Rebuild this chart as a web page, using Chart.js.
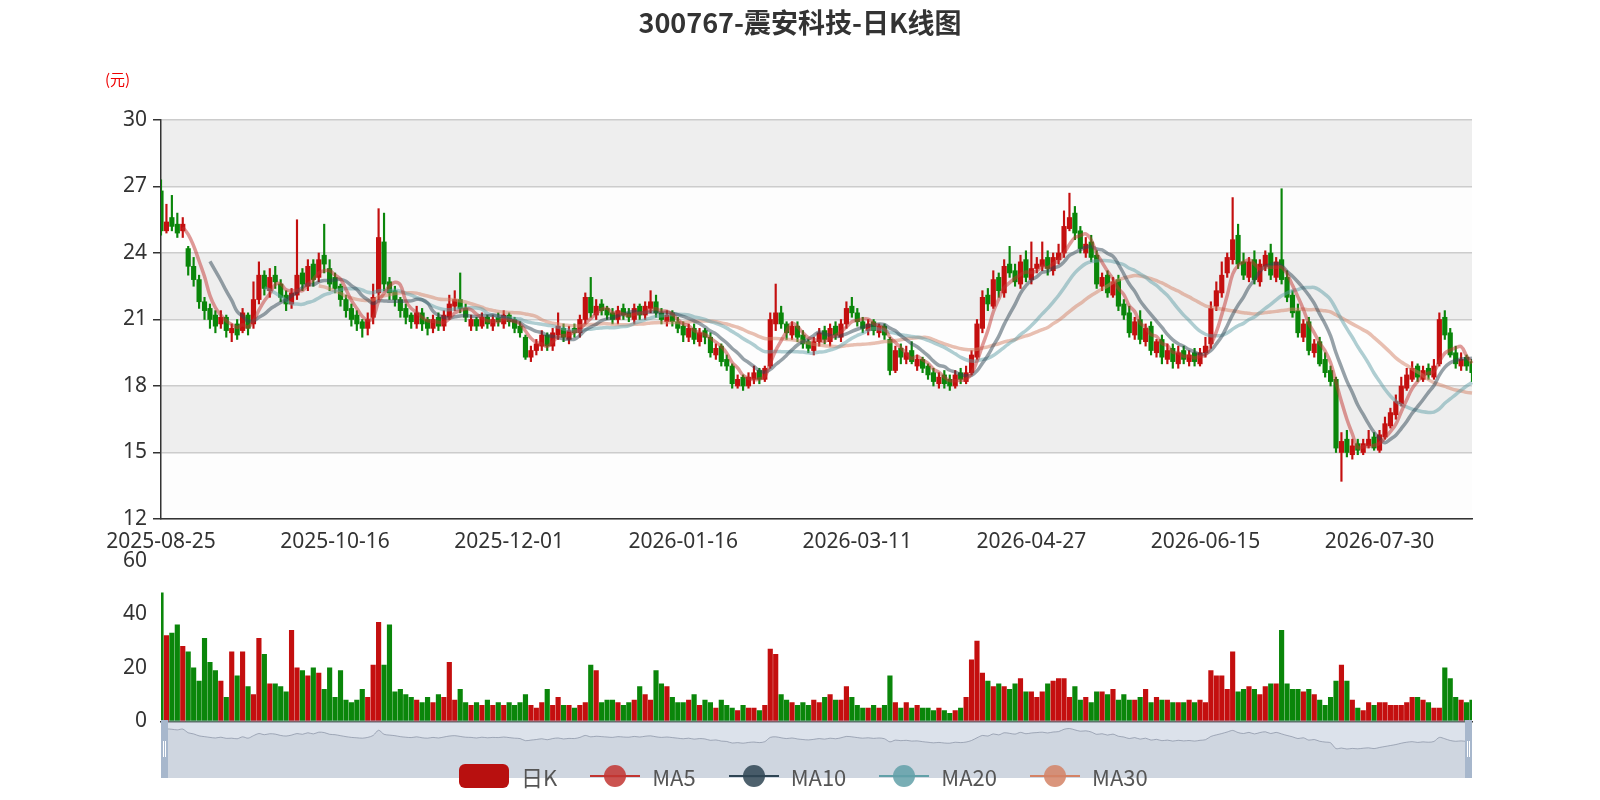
<!DOCTYPE html>
<html>
<head>
<meta charset="utf-8">
<script src="https://cdn.jsdelivr.net/npm/chart.js@4.4.1/dist/chart.umd.min.js"></script>
<style>
  body { margin: 0; background: #fff; font-family: "Noto Sans", "Noto Sans CJK SC", sans-serif; }
  #wrap { position: relative; width: 1600px; height: 800px; overflow: hidden; }
  canvas { position: absolute; }
  #title { position: absolute; top: 2px; width: 1600px; text-align: center; font-size: 27px; font-weight: bold; color: #333; font-family: "Noto Sans CJK SC", sans-serif; }
  #unit { position: absolute; left: 105px; top: 68px; font-size: 15px; color: #e00; font-family: "Noto Sans CJK SC", sans-serif; }
  #legend { position: absolute; top: 760px; left: 459px; display: flex; align-items: center; font-size: 22px; color: #555; font-family: "Noto Sans CJK SC", sans-serif; }
  .item { display: flex; align-items: center; margin-right: 33px; }
  .sw { position: relative; width: 50px; height: 28px; margin-right: 12px; }
  .sw .ln { position: absolute; top: 13px; left: 0; width: 50px; height: 2px; }
  .sw .dot { position: absolute; top: 3px; left: 14px; width: 22px; height: 22px; border-radius: 50%; }
</style>
</head>
<body>
<div id="wrap">
  <canvas id="main" style="left:0;top:0" width="1600" height="560"></canvas>
  <canvas id="vol" style="left:0;top:542px" width="1600" height="198"></canvas>
  <canvas id="slider" style="left:161px;top:720px" width="1311" height="58"></canvas>
  <div id="title">300767-震安科技-日K线图</div>
  <div id="unit">(元)</div>
  <div id="legend"></div>
</div>
<script>
// trading calendar: weekdays from 2025-08-25, minus exchange holidays
const startDate = '2025-08-25';
const dayCount = 242;
const holidays = ['2025-10-01','2025-10-02','2025-10-03','2025-10-06','2025-10-07','2025-10-08',
  '2026-01-01','2026-01-02','2026-02-16','2026-02-17','2026-02-18','2026-02-19','2026-02-20','2026-02-23',
  '2026-04-06','2026-05-01','2026-05-04','2026-05-05','2026-06-19'];

const openPrices = [
  26.8,25.0,25.6,25.3,25.0,24.2,23.4,22.8,21.8,21.5, 21.2,20.8,21.1,20.4,20.8,20.5,21.2,20.8,21.9,23.0,
  22.3,23.0,22.6,22.1,21.7,22.1,23.1,22.5,23.5,22.9, 23.9,23.3,22.9,22.5,21.9,21.5,21.2,20.9,20.6,21.1,
  22.2,24.5,22.7,22.3,21.9,21.5,21.2,20.8,21.3,21.0, 20.6,21.1,20.7,21.1,21.6,21.9,21.5,20.7,21.0,20.7,
  21.1,20.7,21.1,20.8,21.2,21.0,20.7,20.2,19.3,19.6, 19.8,20.3,19.8,20.3,20.6,20.1,20.6,20.4,21.0,22.0,
  21.2,21.7,21.5,21.3,21.0,21.5,21.3,21.0,21.6,21.2, 21.5,21.8,21.3,20.9,21.3,20.9,20.7,20.2,20.6,20.0,
  20.5,20.2,19.4,19.8,19.2,18.9,18.0,18.4,18.0,18.3, 18.7,18.3,18.9,20.8,21.3,20.8,20.3,20.7,20.3,20.0,
  19.6,20.0,20.5,20.0,20.7,20.2,20.8,21.6,21.3,20.9, 20.5,20.9,20.4,20.7,20.1,18.7,19.7,19.2,19.6,18.9,
  19.2,18.9,18.6,18.1,18.5,18.3,18.0,18.6,18.2,18.6, 19.3,20.6,22.1,21.6,22.9,22.2,23.5,23.2,22.6,23.7,
  22.8,23.3,23.4,23.8,23.2,23.7,24.0,25.1,25.8,25.0, 24.0,24.5,23.9,22.5,23.0,22.1,22.8,21.7,21.3,20.3,
  21.0,20.0,20.7,19.5,20.1,19.2,19.7,19.0,19.6,19.1, 19.5,19.0,19.5,19.9,21.6,22.2,23.1,23.7,24.8,23.6,
  22.9,23.7,22.7,23.4,24.0,22.9,23.7,22.9,22.1,21.4, 20.2,20.9,19.5,20.0,19.2,18.7,18.3,15.0,15.6,14.9,
  15.4,15.0,15.3,15.7,15.1,15.7,16.2,16.7,17.2,17.9, 18.3,18.9,18.3,18.8,18.4,19.0,21.1,20.4,19.5,18.9,
  19.3,19.1];
const closePrices = [
  25.0,25.4,25.2,24.9,25.3,23.4,22.8,21.8,21.4,21.0, 20.7,21.1,20.5,20.6,20.3,21.3,20.6,21.9,23.0,22.4,
  22.9,22.7,22.0,21.7,22.2,23.0,22.6,23.4,22.8,23.7, 23.5,22.6,22.4,21.9,21.4,21.0,20.8,20.6,21.0,22.0,
  24.7,22.6,22.2,21.9,21.4,21.1,20.9,21.3,20.8,20.6, 21.0,20.7,21.2,21.7,21.9,21.5,21.1,21.0,20.7,21.1,
  20.8,21.0,20.9,21.2,20.9,20.6,20.4,19.3,19.6,19.9, 20.3,19.8,20.4,20.7,20.2,20.5,20.4,21.0,22.0,21.3,
  21.6,21.4,21.2,21.0,21.4,21.2,21.1,21.5,21.2,21.6, 21.8,21.3,21.0,21.2,20.9,20.6,20.3,20.6,20.1,20.4,
  20.2,19.5,19.7,19.1,18.9,18.1,18.3,18.0,18.4,18.6, 18.3,18.8,21.0,21.3,20.8,20.4,20.7,20.2,19.9,19.7,
  20.0,20.4,20.1,20.6,20.3,20.8,21.5,21.3,20.9,20.6, 20.8,20.5,20.7,20.3,18.7,19.6,19.3,19.5,19.1,19.2,
  18.8,18.5,18.2,18.4,18.1,18.0,18.5,18.3,18.6,19.4, 20.8,22.0,21.7,22.8,22.3,23.4,23.1,22.7,23.6,22.9,
  23.3,23.5,23.7,23.3,23.8,24.0,25.2,25.6,24.9,24.2, 24.4,23.8,22.6,22.9,22.2,22.7,21.6,21.2,20.4,20.9,
  20.1,20.6,19.6,20.0,19.3,19.6,19.1,19.5,19.2,19.4, 19.1,19.5,19.8,21.5,22.3,23.0,23.8,24.6,23.5,23.0,
  23.6,22.8,23.5,23.9,23.0,23.6,22.8,22.0,21.3,20.4, 20.8,19.6,19.9,19.0,18.6,18.2,15.2,15.5,15.0,15.3,
  15.1,15.4,15.6,15.2,15.8,16.3,16.8,17.3,18.0,18.5, 18.8,18.4,18.7,18.5,18.9,21.0,20.3,19.4,19.0,19.2,
  18.9,18.6];
const highPrices = [
  27.3,26.2,26.6,25.8,25.6,24.3,23.8,23.0,22.0,21.7, 21.4,21.4,21.2,20.8,21.0,21.5,21.3,22.7,23.6,23.2,
  23.3,23.4,22.8,22.3,22.4,25.5,23.3,23.7,23.7,24.0, 25.3,23.7,23.1,22.6,22.1,21.7,21.4,21.0,21.3,22.6,
  26.0,25.8,22.9,22.5,22.0,21.7,21.3,21.6,21.5,21.1, 21.2,21.3,21.4,22.1,22.3,23.1,21.7,21.2,21.1,21.3,
  21.2,21.2,21.3,21.4,21.3,21.1,20.9,20.3,19.8,20.1, 20.5,20.4,20.6,21.3,20.8,20.7,20.8,21.2,22.2,22.9,
  21.9,21.9,21.6,21.5,21.6,21.7,21.5,21.7,21.7,21.8, 22.3,22.1,21.5,21.4,21.4,21.1,20.9,20.8,20.8,20.6,
  20.6,20.4,19.9,19.9,19.4,19.0,18.5,18.5,18.6,18.9, 18.8,18.9,21.3,22.6,21.6,20.9,20.9,20.9,20.5,20.1,
  20.2,20.6,20.7,20.8,20.9,21.0,21.8,22.0,21.5,21.1, 21.0,21.0,20.8,20.8,20.2,19.8,19.9,19.8,20.0,19.4,
  19.3,19.0,18.8,18.6,18.7,18.5,18.7,18.8,18.9,19.6, 21.0,22.3,22.4,23.2,23.1,23.7,24.3,23.5,23.9,24.1,
  24.5,23.8,24.5,24.1,24.0,24.4,25.9,26.7,26.1,25.2, 24.7,24.8,24.1,23.1,23.2,22.9,23.0,21.9,21.6,21.1,
  21.4,20.8,20.9,20.1,20.3,19.9,19.9,19.8,19.8,19.6, 19.7,19.7,20.2,21.8,22.7,23.6,24.0,26.5,25.3,24.0,
  23.8,24.1,23.7,24.1,24.4,23.8,26.9,23.2,22.3,21.7, 21.0,21.1,20.1,20.2,19.5,18.9,18.4,15.9,16.0,15.6,
  15.6,15.6,16.0,15.9,16.0,16.6,17.0,17.6,18.4,18.8, 19.1,19.0,18.9,19.0,19.2,21.3,21.4,20.6,19.8,19.5,
  19.4,19.2];
const lowPrices = [
  24.8,24.9,25.0,24.7,24.7,23.0,22.5,21.5,21.0,20.6, 20.4,20.6,20.2,20.0,20.1,20.4,20.3,20.6,21.7,22.1,
  22.0,22.4,21.8,21.4,21.5,21.9,22.3,22.3,22.5,22.7, 23.1,22.3,22.2,21.6,21.1,20.7,20.5,20.2,20.3,20.8,
  21.9,22.3,21.9,21.6,21.1,20.8,20.6,20.6,20.5,20.3, 20.4,20.5,20.5,21.0,21.4,21.3,20.9,20.5,20.5,20.6,
  20.6,20.5,20.7,20.6,20.7,20.4,20.2,19.2,19.1,19.4, 19.6,19.6,19.6,20.1,20.0,19.9,20.2,20.2,20.8,21.1,
  21.0,21.2,21.0,20.8,20.8,21.0,20.9,20.8,21.0,21.0, 21.3,21.1,20.8,20.7,20.7,20.4,20.0,20.0,19.9,19.8,
  19.9,19.3,19.2,18.9,18.7,17.9,17.9,17.8,17.9,18.1, 18.1,18.2,18.8,20.5,20.6,20.1,20.1,20.0,19.7,19.5,
  19.4,19.8,19.9,19.8,20.1,20.0,20.6,21.1,20.7,20.4, 20.3,20.3,20.2,20.1,18.5,18.6,19.0,19.0,19.0,18.7,
  18.6,18.3,18.0,17.9,17.9,17.8,17.9,18.1,18.1,18.5, 19.2,20.4,21.4,21.5,22.0,22.0,22.9,22.5,22.4,22.7,
  22.6,23.1,23.2,23.0,23.0,23.5,23.8,25.0,24.6,24.0, 23.8,23.6,22.4,22.3,22.0,22.0,21.4,21.0,20.2,20.1,
  19.9,19.8,19.4,19.3,19.0,19.0,18.8,18.8,19.0,18.9, 18.9,18.9,19.3,19.7,21.4,22.0,22.9,23.5,23.3,22.8,
  22.7,22.6,22.5,23.2,22.8,22.7,22.6,21.8,21.1,20.2, 20.0,19.4,19.3,18.9,18.4,18.0,15.0,13.7,14.8,14.7,
  14.9,14.9,15.2,15.1,15.0,15.6,16.1,16.5,17.1,17.8, 18.2,18.2,18.2,18.3,18.3,18.9,20.1,19.3,18.8,18.7,
  18.7,18.2];
const volumes = [
  48,32,33,36,28,26,20,15,31,22, 19,15,9,26,17,26,13,10,31,25, 14,14,13,11,34,20,19,17,20,18,
  12,20,9,19,8,7,8,12,9,21, 37,21,36,11,12,10,9,8,7,9, 7,10,9,22,8,12,7,6,7,6,
  8,6,7,6,7,6,7,10,6,5, 7,12,6,9,6,6,5,6,7,21, 19,7,8,8,7,6,7,8,13,10,
  8,19,14,13,9,7,7,8,10,6, 8,7,5,8,6,5,4,6,5,5, 4,6,27,25,10,8,7,6,7,6,
  8,7,9,10,8,8,13,9,6,5, 5,6,5,6,17,7,5,7,5,6, 5,5,4,5,4,3,4,5,9,23,
  30,18,15,13,14,13,12,14,16,11, 11,9,11,14,15,16,16,9,13,8, 9,7,11,11,10,12,8,10,8,8,
  9,12,7,9,8,8,7,7,7,8, 7,8,7,19,17,17,12,26,11,12, 13,12,10,13,14,14,34,14,12,12,
  11,12,10,8,6,9,15,21,15,8, 5,4,7,6,7,7,6,6,6,7, 9,9,8,7,5,5,20,16,9,8, 7,8];
const maPeriods = [5, 10, 20, 30];
const maColors = ['rgba(194,53,49,0.5)', 'rgba(47,69,84,0.5)', 'rgba(97,160,168,0.5)', 'rgba(212,130,101,0.5)'];
const maLegendColors = ['#c23531', '#2f4554', '#61a0a8', '#d48265'];

const UP = '#c40f0f';
const DOWN = '#0a860a';

function buildDates() {
    const out = [];
    const d = new Date(startDate + 'T00:00:00Z');
    while (out.length < dayCount) {
        const s = d.toISOString().slice(0, 10);
        const wd = d.getUTCDay();
        if (wd !== 0 && wd !== 6 && !holidays.includes(s)) out.push(s);
        d.setUTCDate(d.getUTCDate() + 1);
    }
    return out;
}

function calculateMA(n) {
    return closePrices.map((c, i) => {
        if (i < n - 1) return null;
        let sum = 0;
        for (let j = 0; j < n; j++) sum += closePrices[i - j];
        return +(sum / n).toFixed(3);
    });
}

const dates = buildDates();
const candleColors = closePrices.map((c, i) => c >= openPrices[i] ? UP : DOWN);
const font = { family: "'Noto Sans', sans-serif", size: 21 };

// alternating band background on the price grid
const bandPlugin = {
    id: 'bands',
    beforeDraw(chart) {
        const { ctx, chartArea, scales } = chart;
        const y = scales.y;
        const ticks = y.ticks.map(t => t.value);
        ctx.save();
        for (let i = 0; i < ticks.length - 1; i++) {
            const top = y.getPixelForValue(ticks[i + 1]);
            const bot = y.getPixelForValue(ticks[i]);
            ctx.fillStyle = (i % 2 === 0) ? 'rgba(250,250,250,0.3)' : 'rgba(200,200,200,0.3)';
            ctx.fillRect(chartArea.left, top, chartArea.right - chartArea.left, bot - top);
        }
        ctx.restore();
    }
};

new Chart(document.getElementById('main'), {
    type: 'bar',
    data: {
        labels: dates,
        datasets: [
            {
                label: 'wick',
                data: lowPrices.map((l, i) => [l, highPrices[i]]),
                backgroundColor: candleColors,
                barThickness: 1.5,
                grouped: false,
                order: 3
            },
            {
                label: '日K',
                data: openPrices.map((o, i) => [o, closePrices[i]]),
                backgroundColor: candleColors,
                barThickness: 4.5,
                grouped: false,
                minBarLength: 1,
                order: 2
            },
            ...maPeriods.map((p, k) => ({
                type: 'line',
                label: 'MA' + p,
                data: calculateMA(p),
                borderColor: maColors[k],
                borderWidth: 3.5,
                pointRadius: 0,
                tension: 0.4,
                order: 1
            }))
        ]
    },
    options: {
        responsive: false,
        animation: false,
        layout: { padding: { top: 120, right: 128, left: 0, bottom: 0 } },
        plugins: { legend: { display: false }, tooltip: { enabled: false } },
        scales: {
            x: {
                offset: false,
                grid: { display: false, drawTicks: true },
                border: { color: '#333', width: 1.5 },
                ticks: {
                    autoSkip: false, maxRotation: 0, color: '#333', font, padding: 2,
                    callback: (v, i) => i % 32 === 0 ? dates[i] : ''
                },
                afterFit: s => { s.height = 560 - 519; }
            },
            y: {
                min: 12, max: 30,
                ticks: { stepSize: 3, color: '#333', font, padding: 6 },
                grid: { color: '#ccc', lineWidth: 1.5, tickColor: '#333', tickLength: 8 },
                border: { color: '#333', width: 1.5 },
                afterFit: s => { s.width = 161; }
            }
        }
    },
    plugins: [bandPlugin]
});

new Chart(document.getElementById('vol'), {
    type: 'bar',
    data: {
        labels: dates,
        datasets: [{ label: 'Volume', data: volumes, backgroundColor: candleColors, barThickness: 4.5 }]
    },
    options: {
        responsive: false,
        animation: false,
        layout: { padding: { top: 0, right: 128, left: 0, bottom: 0 } },
        plugins: { legend: { display: false }, tooltip: { enabled: false } },
        scales: {
            x: {
                offset: false,
                grid: { display: false },
                border: { color: '#333', width: 1.5 },
                ticks: { display: false },
                afterFit: s => { s.height = 5; }
            },
            y: {
                min: 0, max: 60,
                ticks: { stepSize: 20, color: '#333', font, padding: 6 },
                grid: { display: false },
                border: { display: false },
                afterFit: s => { s.width = 161; }
            }
        }
    }
});

// data zoom slider look-alike
const sliderPlugin = {
    id: 'sliderFrame',
    beforeDraw(chart) {
        const { ctx, width, height } = chart;
        ctx.save();
        ctx.fillStyle = 'rgba(167,183,204,0.4)';
        ctx.fillRect(0, 0, width, height);
        ctx.restore();
    },
    afterDraw(chart) {
        const { ctx, width, height } = chart;
        ctx.save();
        ctx.fillStyle = '#a7b7cc';
        [0, width - 7].forEach(x => {
            ctx.fillRect(x, 0, 7, height);
            ctx.fillStyle = '#fff';
            ctx.fillRect(x + 2, height / 2 - 8, 1, 16);
            ctx.fillRect(x + 4, height / 2 - 8, 1, 16);
            ctx.fillStyle = '#a7b7cc';
        });
        ctx.restore();
    }
};

new Chart(document.getElementById('slider'), {
    type: 'line',
    data: {
        labels: dates,
        datasets: [{
            data: closePrices,
            borderColor: 'rgba(120,130,150,0.6)',
            borderWidth: 1,
            backgroundColor: 'rgba(200,206,218,0.6)',
            fill: 'start',
            pointRadius: 0,
            tension: 0.3
        }]
    },
    options: {
        responsive: false,
        animation: false,
        layout: { padding: 0 },
        plugins: { legend: { display: false }, tooltip: { enabled: false } },
        scales: {
            x: { display: false, offset: false },
            y: { display: false, min: 0, max: 30 }
        }
    },
    plugins: [sliderPlugin]
});

// legend
const legend = document.getElementById('legend');
const items = [{ name: '日K', color: '#b8100f', box: true }]
    .concat(maPeriods.map((p, k) => ({ name: 'MA' + p, color: maLegendColors[k] })));
items.forEach(it => {
    const el = document.createElement('div');
    el.className = 'item';
    const sw = it.box
        ? `<div class="sw"><div style="position:absolute;top:2px;left:0;width:50px;height:24px;border-radius:6px;background:${it.color}"></div></div>`
        : `<div class="sw"><div class="ln" style="background:${it.color}"></div><div class="dot" style="background:${it.color};opacity:0.85"></div></div>`;
    el.innerHTML = sw + `<span>${it.name}</span>`;
    legend.appendChild(el);
});
</script>
</body>
</html>
